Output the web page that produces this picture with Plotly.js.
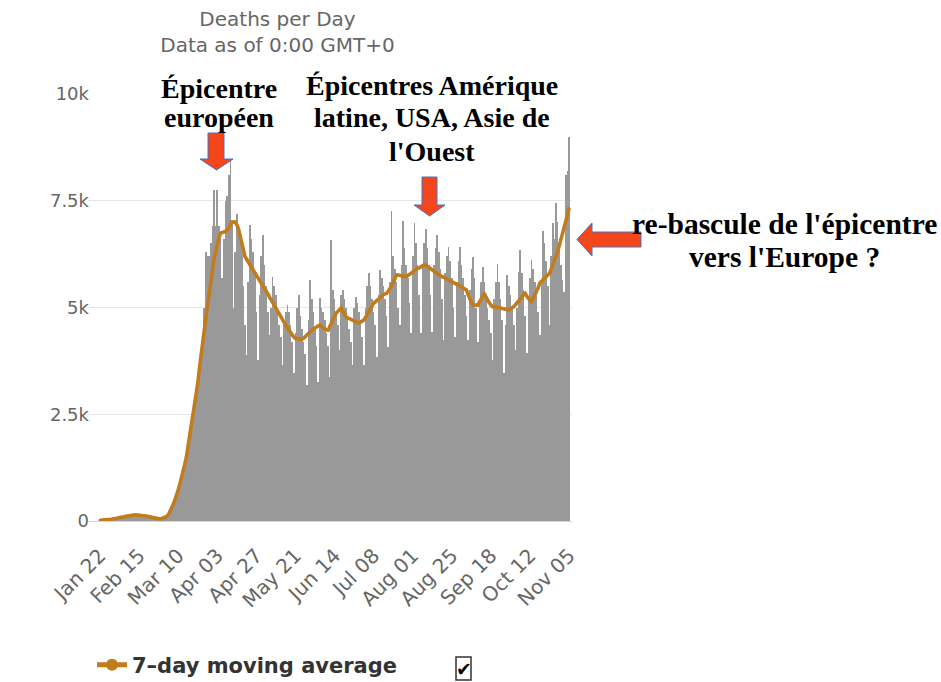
<!DOCTYPE html>
<html>
<head>
<meta charset="utf-8">
<script src="https://cdn.plot.ly/plotly-3.0.1.min.js"></script>
<style>html,body{margin:0;padding:0;background:#fff;}#chart{width:941px;height:682px;}</style>
</head>
<body>
<div id="chart"></div>
<script>
// ---------- DATA ----------
const startDate = '2020-01-22';
const tickEveryDays = 24;
const yTickVals = [0, 2500, 5000, 7500, 10000];
const yTickText = ['0', '2.5k', '5k', '7.5k', '10k'];

// Daily deaths (one value per day from Jan 22)
const dailyDeaths = [
  20,10,20,20,20,30,30,
  40,40,50,50,60,60,70,
  70,90,90,100,110,100,120,
  160,100,140,140,110,100,140,
  120,130,110,110,90,70,60,
  50,40,60,70,60,90,100,
  120,180,280,450,550,650,780,
  900,1000,1200,1400,1600,1800,2000,
  2200,2500,2800,3000,3300,3800,3900,
  4200,5000,6300,6200,6200,6500,6900,
  7750,6900,7750,6900,6600,5700,6600,
  7500,7600,8100,8450,7000,5000,6300,
  7200,6900,6800,6500,5500,4600,
  3890,
  5600,6930,6600,6300,5800,4900,
  3770,
  5300,6200,6700,6000,5500,4900,
  4360,
  5000,5720,5500,5300,5000,4600,4300,
  3650,
  4600,4900,5060,4900,4600,4200,
  3470,
  4400,5000,5290,4800,4500,4200,3900,
  3190,
  4700,5640,5200,4900,4500,4100,
  3260,
  5220,5000,4900,4700,4400,4100,
  3380,
  6580,5400,5200,4900,4600,
  4000,
  5300,5400,5200,5000,4800,4500,4200,
  3650,
  5000,5250,5100,4900,4700,4300,
  3650,
  5000,5500,5800,5500,5200,4900,4600,
  3850,
  5300,5880,5700,5500,5200,4800,
  4080,
  5600,7260,6200,5900,5600,5000,
  4600,
  6000,7030,6400,6000,5700,5100,
  4400,
  6200,6980,6500,6000,5300,
  4400,
  6000,6500,6840,6400,6000,5300,
  4430,
  6000,6400,6700,6300,5900,5200,
  4240,
  5800,6200,6420,6100,5700,5000,
  4320,
  5600,6100,6410,6000,5700,5300,4800,
  4240,
  5400,5900,6190,5700,5000,
  4200,
  5200,5600,5960,5600,5300,5000,4700,4400,
  3770,
  5200,5600,6020,5600,5200,4700,
  3460,
  4600,5760,5500,5300,5000,4600,
  4000,
  5000,5840,6350,5800,5400,4800,
  3930,
  5200,5700,6110,5900,5600,5300,4900,
  4360,
  5600,6780,6500,6100,5500,
  4590,
  6200,6980,6600,7450,7000,6500,6000,
  5640,5370,8100,8200,9000
];

// 7-day moving average line
const movingAvg = [
  20,20,20,20,30,30,30,40,50,50,
  60,70,80,80,90,100,110,120,120,130,
  140,140,140,140,140,140,130,130,120,110,
  100,90,80,70,60,60,50,50,60,70,
  80,110,150,220,300,400,500,600,730,870,
  1000,1170,1330,1500,1730,1970,2200,2430,2670,2900,
  3230,3570,3900,4200,4500,4770,5030,5300,5630,5960,
  6140,6320,6500,6620,6740,6750,6770,6780,6820,6850,
  6930,7000,7000,7000,6930,6850,6680,6500,6350,6200,
  6130,6070,6000,5940,5880,5820,5760,5700,5630,5570,
  5510,5460,5400,5320,5250,5180,5120,5050,4990,4920,
  4860,4790,4720,4650,4590,4530,4470,4410,4350,4310,
  4280,4270,4260,4250,4260,4280,4320,4360,4400,4440,
  4470,4500,4520,4550,4570,4590,4550,4520,4500,4480,
  4470,4560,4650,4720,4800,4870,4910,4950,4990,4920,
  4850,4780,4760,4740,4720,4700,4670,4650,4640,4630,
  4660,4680,4710,4770,4840,4900,4970,5030,5100,5130,
  5170,5200,5230,5270,5300,5320,5330,5390,5440,5500,
  5590,5670,5760,5760,5750,5750,5740,5730,5720,5750,
  5770,5800,5830,5870,5900,5920,5930,5950,5980,6000,
  5990,5970,5940,5910,5880,5850,5830,5800,5770,5750,
  5720,5710,5690,5680,5650,5630,5600,5580,5570,5550,
  5530,5500,5480,5460,5430,5410,5300,5200,5130,5060,
  5060,5060,5060,5130,5200,5270,5330,5240,5150,5110,
  5060,5020,5020,5010,5010,5000,4990,4980,4970,4960,
  4950,4940,4970,4990,5020,5060,5100,5150,5200,5250,
  5290,5330,5270,5200,5170,5140,5210,5280,5350,5460,
  5570,5610,5660,5700,5730,5770,5800,5900,6000,6100,
  6190,6320,6450,6600,6740,6870,7000,7160,7320
];

// ---------- HELPERS ----------
const DAY = 86400000;
const t0 = Date.parse(startDate + 'T00:00:00Z');
function dstr(ms){ return new Date(ms).toISOString().replace('T',' ').replace('Z',''); }
const dates = dailyDeaths.map((_, i) => dstr(t0 + i*DAY).slice(0,10));
const maDates = movingAvg.map((_, i) => dstr(t0 + i*DAY).slice(0,10));
const nDays = dailyDeaths.length;
const xTickVals = [];
for (let i = 0; i < nDays; i += tickEveryDays) xTickVals.push(dstr(t0 + i*DAY).slice(0,10));

const W = 941, H = 682;
const M = {l: 88, r: 369, t: 94, b: 161, autoexpand: false};
const PW = W - M.l - M.r, PH = H - M.t - M.b;
const px = x => (x - M.l) / PW;
const py = y => (H - M.b - y) / PH;
function pathPx(pts){ return 'M ' + pts.map(p => px(p[0]) + ',' + py(p[1])).join(' L ') + ' Z'; }

// ---------- TRACES ----------
const bars = {
  type: 'bar', x: dates, y: dailyDeaths, name: 'Daily Deaths',
  marker: {color: '#999999', line: {width: 0}}, showlegend: false, hoverinfo: 'skip'
};
const ma = {
  type: 'scatter', mode: 'lines+markers', x: maDates, y: movingAvg,
  name: '7–day moving average',
  line: {color: '#c27c1b', width: 3.5}, marker: {color: '#c27c1b', size: 3},
  hoverinfo: 'skip'
};

const arrowStyle = {fillcolor: '#f5461b', line: {color: '#4472c4', width: 1}, xref: 'paper', yref: 'paper', layer: 'above'};
const shapes = [
  Object.assign({type: 'path', path: pathPx([[208,133],[224,133],[224,159],[233,159],[216.5,170],[200,159],[208,159]])}, arrowStyle),
  Object.assign({type: 'path', path: pathPx([[422,177],[437,177],[437,205],[445,205],[429.5,216],[414,205],[422,205]])}, arrowStyle),
  Object.assign({type: 'path', path: pathPx([[641,232],[641,247],[592,247],[592,256],[577,239.5],[592,223],[592,232]])}, arrowStyle),
  {type: 'rect', xref: 'paper', yref: 'paper', x0: px(456), x1: px(471), y0: py(680), y1: py(657),
   line: {color: '#333', width: 1.5}, fillcolor: '#fff'}
];

function note(text, cx, cy, size){
  return {text: text, xref: 'paper', yref: 'paper', x: px(cx), y: py(cy),
          xanchor: 'center', yanchor: 'middle', showarrow: false,
          font: {family: 'Liberation Serif', size: size, color: '#000', weight: 'bold'}};
}
const annotations = [
  note('Épicentre', 219, 88, 28),
  note('européen', 219, 118, 28),
  note('Épicentres Amérique', 432, 86, 28),
  note('latine, USA, Asie de', 432, 118, 28),
  note("l'Ouest", 432, 151, 28),
  note("re-bascule de l'épicentre", 784, 224, 29.5),
  note("vers l'Europe ?", 784, 257, 29.5),
  {text: '✔', xref: 'paper', yref: 'paper', x: px(463.5), y: py(668.5), xanchor: 'center', yanchor: 'middle',
   showarrow: false, font: {family: 'DejaVu Sans', size: 19, color: '#000'}}
];

const layout = {
  width: W, height: H,
  margin: M,
  paper_bgcolor: '#fff', plot_bgcolor: '#fff',
  font: {family: 'DejaVu Sans', color: '#666'},
  title: {
    text: 'Deaths per Day<br>Data as of 0:00 GMT+0',
    font: {family: 'DejaVu Sans', size: 20, color: '#666'},
    xref: 'container', yref: 'container', x: 277.5 / W, xanchor: 'center',
    y: 1 - 26 / H, yanchor: 'top'
  },
  bargap: 0,
  xaxis: {
    type: 'date',
    range: [dstr(t0 - 7.4*DAY), dstr(t0 + (nDays - 1 + 1.8)*DAY)],
    tickvals: xTickVals, tickformat: '%b %d', tickangle: -45,
    tickfont: {family: 'DejaVu Sans', size: 20, color: '#666'},
    ticklabelstandoff: 14,
    showgrid: false, zeroline: false, showline: true, linecolor: '#ccd6eb', linewidth: 1,
    ticks: '', fixedrange: true
  },
  yaxis: {
    range: [0, 10000], tickvals: yTickVals, ticktext: yTickText,
    tickfont: {family: 'DejaVu Sans', size: 18, color: '#666'},
    gridcolor: '#e6e6e6', gridwidth: 1, zeroline: false, showline: false, ticks: '',
    ticklabelstandoff: -2,
    fixedrange: true
  },
  showlegend: true,
  legend: {
    x: px(92), y: py(665), xanchor: 'left', yanchor: 'middle', orientation: 'h',
    font: {family: 'DejaVu Sans', size: 21, color: '#333', weight: 'bold'},
    itemsizing: 'constant', bgcolor: 'rgba(0,0,0,0)'
  },
  shapes: shapes,
  annotations: annotations
};

Plotly.newPlot('chart', [bars, ma], layout, {displayModeBar: false, staticPlot: true});
</script>
</body>
</html>
